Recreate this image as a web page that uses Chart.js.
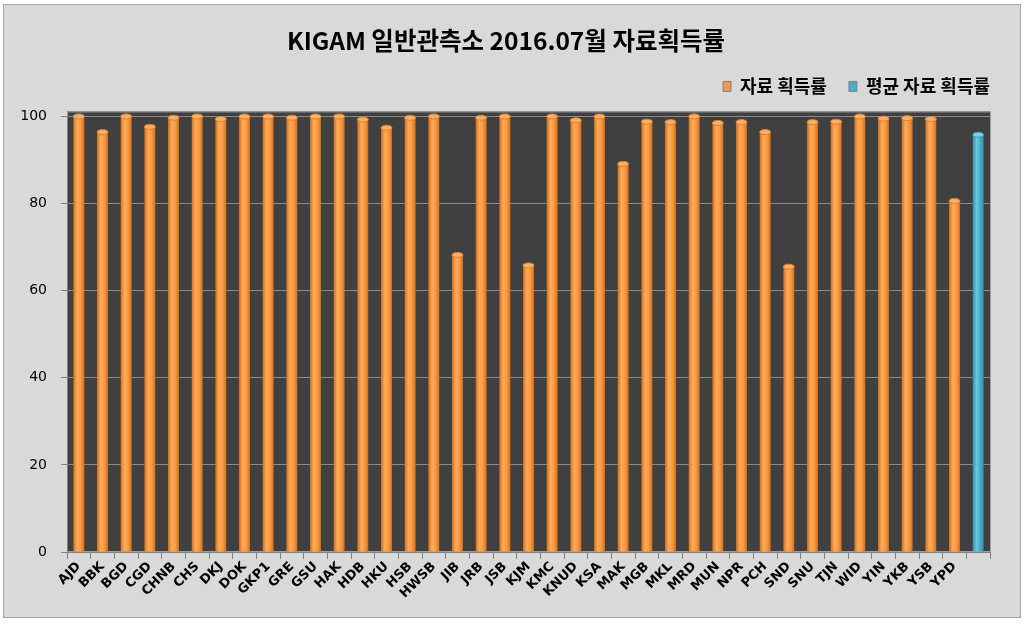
<!DOCTYPE html>
<html>
<head>
<meta charset="utf-8">
<script src="https://cdn.jsdelivr.net/npm/chart.js@4"></script>
<style>
  body { margin: 0; background: #fff; }
  .frame {
    position: absolute; left: 3px; top: 4px; width: 1016px; height: 612px;
    background: #d9d9d9; border: 1px solid #a6a6a6;
  }
  canvas { position: absolute; left: 0; top: 0; }
</style>
</head>
<body>
<div class="frame"></div>
<canvas id="chart" width="1029" height="623"></canvas>
<script>
const stations = ['AJD', 'BBK', 'BGD', 'CGD', 'CHNB', 'CHS', 'DKJ', 'DOK', 'GKP1', 'GRE',
  'GSU', 'HAK', 'HDB', 'HKU', 'HSB', 'HWSB', 'JIB', 'JRB', 'JSB', 'KJM',
  'KMC', 'KNUD', 'KSA', 'MAK', 'MGB', 'MKL', 'MRD', 'MUN', 'NPR', 'PCH',
  'SND', 'SNU', 'TJN', 'WID', 'YIN', 'YKB', 'YSB', 'YPD', '']
const rates = [100, 96.4, 100, 97.6, 99.7, 100, 99.4, 100, 100, 99.7,
  100, 100, 99.3, 97.4, 99.7, 100, 68.2, 99.7, 100, 65.8,
  100, 99.1, 100, 89.1, 98.8, 98.7, 100, 98.5, 98.7, 96.4,
  65.5, 98.7, 98.8, 100, 99.5, 99.6, 99.4, 80.6, null]
const averageRate = 95.8
const yTicks = [0, 20, 40, 60, 80, 100]

const titleText = 'KIGAM 일반관측소 2016.07월 자료획득률'
const seriesNames = ['자료 획득률', '평균 자료 획득률']

// average only sits in the last (unnamed) slot
const averageData = stations.map((s, i) => i === stations.length - 1 ? averageRate : null)

const korFont = '"Noto Sans CJK KR", "DejaVu Sans", sans-serif'

// cylinder-ish shading across each bar
function cylinder(ctx, dark, mid, light) {
  const chart = ctx.chart
  const x = chart.scales.x
  if (!x || ctx.type !== 'data') return mid
  const cx = x.getPixelForValue(ctx.dataIndex)
  const w = 11
  const g = chart.ctx.createLinearGradient(cx - w / 2, 0, cx + w / 2, 0)
  g.addColorStop(0, dark)
  g.addColorStop(0.35, light)
  g.addColorStop(0.65, mid)
  g.addColorStop(1, dark)
  return g
}

const plotBg = {
  id: 'plotBg',
  beforeInit(chart) {
    // make room under the legend so the plot starts lower
    const lg = chart.legend
    if (!lg) return
    const fit = lg.fit
    lg.fit = function () {
      fit.call(this)
      this.height = 61
    }
  },
  beforeDraw(chart) {
    const { ctx, chartArea: a } = chart
    ctx.save()
    ctx.fillStyle = '#404040'
    ctx.fillRect(a.left, a.top - 5, a.right - a.left, a.bottom - a.top + 5)
    ctx.strokeStyle = '#a0a0a0'
    ctx.lineWidth = 1
    ctx.strokeRect(a.left + 0.5, a.top - 4.5, a.right - a.left, a.bottom - a.top + 4)
    ctx.restore()
  },
  afterDatasetsDraw(chart) {
    const ctx = chart.ctx
    const caps = [['#ffb066', '#e0802c'], ['#7fd0e6', '#3b9ab5']]
    ctx.save()
    chart.data.datasets.forEach((ds, di) => {
      chart.getDatasetMeta(di).data.forEach((el, i) => {
        if (ds.data[i] == null) return
        ctx.beginPath()
        ctx.ellipse(el.x, el.y, el.width / 2, 2.5, 0, 0, Math.PI * 2)
        ctx.fillStyle = caps[di][0]
        ctx.fill()
        ctx.strokeStyle = caps[di][1]
        ctx.lineWidth = 1
        ctx.stroke()
      })
    })
    ctx.restore()
  }
}

new Chart(document.getElementById('chart'), {
  type: 'bar',
  data: {
    labels: stations,
    datasets: [{
      label: seriesNames[0],
      data: rates,
      backgroundColor: c => cylinder(c, '#d0701f', '#ff9a42', '#ffab5a'),
      borderWidth: 0
    }, {
      label: seriesNames[1],
      data: averageData,
      backgroundColor: c => cylinder(c, '#2f8fab', '#4bb0cc', '#6cc8e0'),
      borderWidth: 0
    }]
  },
  options: {
    responsive: false,
    animation: false,
    grouped: false,
    barPercentage: 0.46,
    categoryPercentage: 1,
    layout: { padding: { left: 0, right: 17, top: 0, bottom: 0 } },
    plugins: {
      title: {
        display: true,
        text: titleText,
        color: '#000',
        font: { family: korFont, size: 24.5, weight: 'bold' },
        padding: { top: 26, bottom: 0 }
      },
      legend: {
        display: true,
        align: 'end',
        labels: {
          color: '#000',
          font: { family: korFont, size: 18, weight: 'bold' },
          boxWidth: 8,
          boxHeight: 10,
          padding: 22,
          generateLabels(chart) {
            const cols = ['#f79646', '#4bacc6']
            return chart.data.datasets.map((ds, i) => ({
              text: ds.label, fillStyle: cols[i], strokeStyle: '#808080',
              lineWidth: 1, datasetIndex: i, hidden: false
            }))
          }
        }
      },
      tooltip: { enabled: false }
    },
    scales: {
      x: {
        grid: { drawOnChartArea: false, tickLength: 7, color: '#808080', offset: true },
        border: { color: '#808080' },
        ticks: {
          color: '#000',
          minRotation: 45, maxRotation: 45,
          autoSkip: false,
          padding: 0,
          font: { family: '"DejaVu Sans", sans-serif', size: 13, weight: 'bold' }
        },
        afterFit(s) { s.height = 71 }
      },
      y: {
        min: 0, max: 100,
        afterBuildTicks(s) { s.ticks = yTicks.map(v => ({ value: v })) },
        grid: { color: '#8a8a8a', tickLength: 6, drawTicks: true, tickColor: '#808080' },
        border: { color: '#808080' },
        ticks: {
          color: '#000',
          padding: 14,
          font: { family: '"DejaVu Sans", sans-serif', size: 14 }
        },
        afterFit(s) { s.width = 67 }
      },
      // empty spacer so the legend lines up with the plot's right edge
      spacer: {
        type: 'linear',
        position: 'right',
        display: true,
        grid: { display: false },
        border: { display: false },
        ticks: { display: false },
        afterFit(s) { s.width = 22 }
      }
    }
  },
  plugins: [plotBg]
})
</script>
</body>
</html>
